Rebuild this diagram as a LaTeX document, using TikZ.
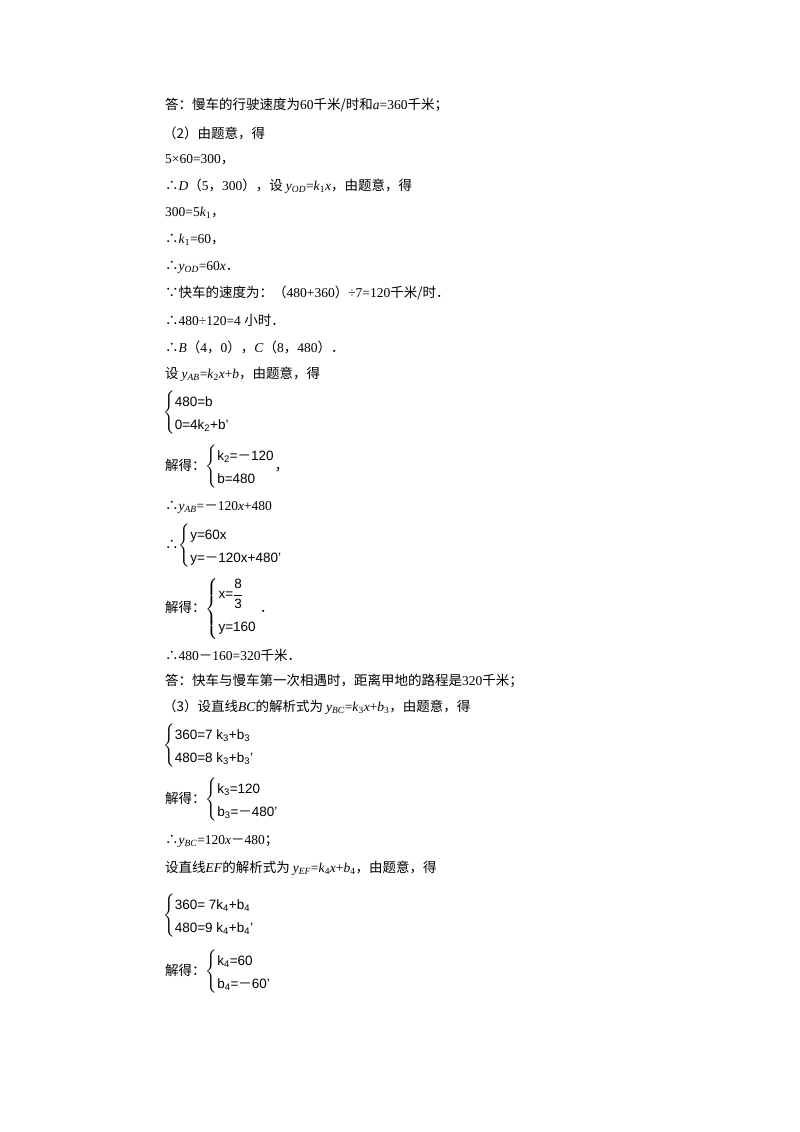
\documentclass[tikz,border=0pt]{standalone}
\usepackage{amsmath}
\usepackage{fontspec}
\setmainfont{Liberation Serif}
\newfontfamily\zhf{Noto Sans CJK SC}
\newfontfamily\arialf{Liberation Sans}
\newcommand{\zh}[1]{{\zhf #1}}
\newcommand{\fm}{{\zhf －}}
\newcommand{\fp}{{\zhf ．}}
\newcommand{\sbs}[1]{\textsubscript{#1}}
\newcommand{\vi}[1]{\textit{#1}}
\newcommand{\sys}[2]{$\renewcommand{\arraystretch}{1.55}\left\{\begin{array}{@{}l@{}}\text{\arialf #1}\\ \text{\arialf #2}\end{array}\right.$}
\begin{document}
\begin{tikzpicture}[x=1pt,y=-1pt,t/.style={anchor=west,inner sep=0pt,font=\fontsize{13.5}{15}\selectfont}]
\useasboundingbox[fill=white] (0,0) rectangle (800,1132);
\node[t] (l1) at (165,105) {\zh{答：慢车的行驶速度为}60\zh{千米/时和}\vi{a}=360\zh{千米；}};
\node[t] (l2) at (163,133) {\zh{（2）由题意，得}};
\node[t] (l3) at (165,160) {5×60=300\zh{，}};
\node[t] (l4) at (165,186) {\zh{∴}\vi{D}\zh{（}5\zh{，}300\zh{），设 }\vi{y}\sbs{\vi{OD}}=\vi{k}\sbs{1}\vi{x}\zh{，由题意，得}};
\node[t] (l5) at (165,213) {300=5\vi{k}\sbs{1}\zh{，}};
\node[t] (l6) at (165,240) {\zh{∴}\vi{k}\sbs{1}=60\zh{，}};
\node[t] (l7) at (165,267) {\zh{∴}\vi{y}\sbs{\vi{OD}}=60\vi{x}\fp};
\node[t] (l8) at (165,293) {\zh{∵快车的速度为：（}480+360\zh{）}÷7=120\zh{千米/时}\fp};
\node[t] (l9) at (165,320) {\zh{∴}480÷120=4 \zh{小时}\fp};
\node[t] (l10) at (165,347) {\zh{∴}\vi{B}\zh{（}4\zh{，}0\zh{），}\vi{C}\zh{（}8\zh{，}480\zh{）}\fp};
\node[t] (l11) at (165,374) {\zh{设 }\vi{y}\sbs{\vi{AB}}=\vi{k}\sbs{2}\vi{x}+\vi{b}\zh{，由题意，得}};
\node[t] (l12) at (163,413) {\sys{480=b}{0=4k\sbs{2}+b’}};
\node[t] (l13) at (165,467) {\zh{解得：}\sys{k\sbs{2}=\fm 120}{b=480}\zh{，}};
\node[t] (l14) at (165,507) {\zh{∴}\vi{y}\sbs{\vi{AB}}=\fm 120\vi{x}+480};
\node[t] (l15) at (165,546) {\zh{∴}\sys{y=60x}{y=\fm 120x+480’}};
\node[t] (l16) at (165,609) {\zh{解得：}$\renewcommand{\arraystretch}{1.6}\left\{\begin{array}{@{}l@{}}\text{\arialf x=}\dfrac{\text{\arialf 8}}{\text{\arialf 3}}\\[9pt] \text{\arialf y=160}\end{array}\right.$ \fp};
\node[t] (l17) at (165,655) {\zh{∴}480\fm 160=320\zh{千米}\fp};
\node[t] (l18) at (165,681) {\zh{答：快车与慢车第一次相遇时，距离甲地的路程是}320\zh{千米；}};
\node[t] (l19) at (163,707) {\zh{（3）设直线}\vi{BC}\zh{的解析式为 }\vi{y}\sbs{\vi{BC}}=\vi{k}\sbs{3}\vi{x}+\vi{b}\sbs{3}\zh{，由题意，得}};
\node[t] (l20) at (163,746) {\sys{360=7 k\sbs{3}+b\sbs{3}}{480=8 k\sbs{3}+b\sbs{3}’}};
\node[t] (l21) at (165,800) {\zh{解得：}\sys{k\sbs{3}=120}{b\sbs{3}=\fm 480’}};
\node[t] (l22) at (165,841) {\zh{∴}\vi{y}\sbs{\vi{BC}}=120\vi{x}\fm 480\zh{；}};
\node[t] (l23) at (165,868) {\zh{设直线}\vi{EF}\zh{的解析式为 }\vi{y}\sbs{\vi{EF}}=\vi{k}\sbs{4}\vi{x}+\vi{b}\sbs{4}\zh{，由题意，得}};
\node[t] (l24) at (163,916) {\sys{360= 7k\sbs{4}+b\sbs{4}}{480=9 k\sbs{4}+b\sbs{4}’}};
\node[t] (l25) at (165,972) {\zh{解得：}\sys{k\sbs{4}=60}{b\sbs{4}=\fm 60’}};
\end{tikzpicture}
\end{document}
